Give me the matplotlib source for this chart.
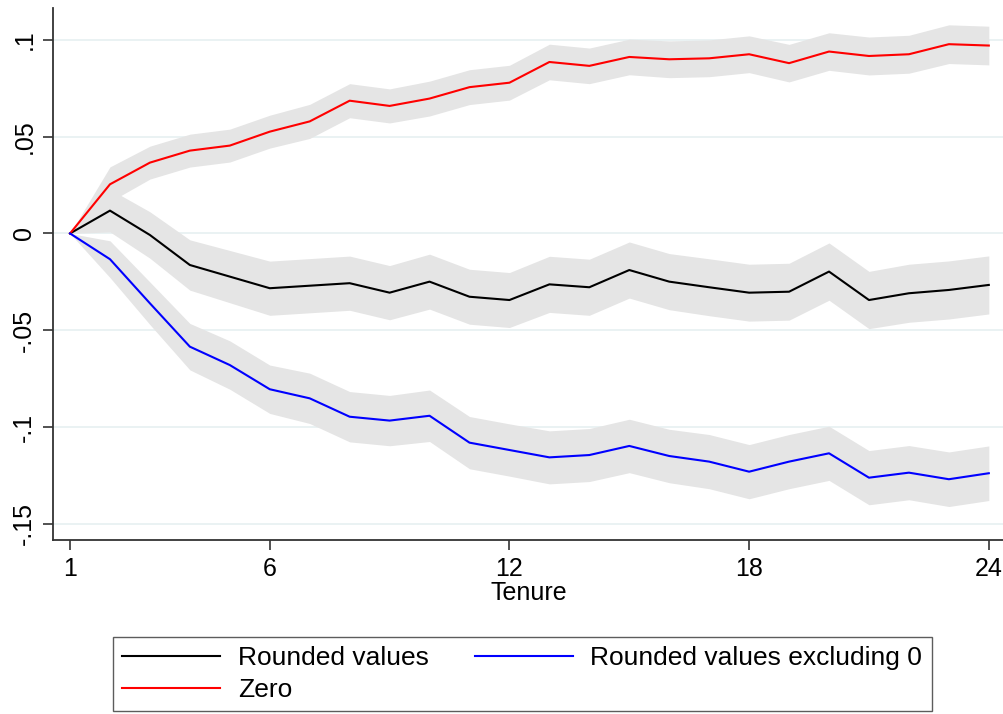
import matplotlib
matplotlib.use("Agg")
import matplotlib.pyplot as plt
import numpy as np

plt.rcParams["font.family"] = ["Liberation Sans", "DejaVu Sans"]

# Tenure months and estimated effects with confidence half-widths
tenure = list(range(1, 25))

rounded = [0.0, 0.0118, -0.0008, -0.0163, -0.0223, -0.0283, -0.0270, -0.0257,
           -0.0306, -0.0249, -0.0327, -0.0344, -0.0263, -0.0278, -0.0189, -0.0249,
           -0.0278, -0.0306, -0.0301, -0.0197, -0.0344, -0.0309, -0.0292, -0.0266]
rounded_ci = [0.0, 0.011, 0.012, 0.013, 0.0135, 0.014, 0.014, 0.014, 0.014, 0.0142,
              0.0142, 0.0142, 0.0145, 0.0145, 0.0145, 0.0145, 0.0147, 0.0147, 0.0147,
              0.0148, 0.0148, 0.015, 0.015, 0.015]

rounded_excl0 = [0.0, -0.0133, -0.0361, -0.0585, -0.0680, -0.0805, -0.0852, -0.0947,
                 -0.0967, -0.0942, -0.1081, -0.1119, -0.1157, -0.1145, -0.1098, -0.1150,
                 -0.1179, -0.1231, -0.1179, -0.1136, -0.1262, -0.1236, -0.1270, -0.1239]
rounded_excl0_ci = [0.0, 0.0095, 0.011, 0.012, 0.0125, 0.0125, 0.013, 0.013, 0.013,
                    0.0133, 0.0135, 0.0135, 0.0137, 0.0137, 0.0138, 0.0138, 0.014,
                    0.014, 0.014, 0.014, 0.014, 0.014, 0.0141, 0.0141]

zero = [0.0, 0.0254, 0.0366, 0.0428, 0.0454, 0.0526, 0.0579, 0.0686, 0.0659, 0.0697,
        0.0756, 0.0779, 0.0886, 0.0866, 0.0912, 0.0900, 0.0905, 0.0926, 0.0880,
        0.0940, 0.0917, 0.0926, 0.0978, 0.0971]
zero_ci = [0.0, 0.009, 0.0085, 0.0085, 0.0085, 0.0085, 0.0088, 0.0088, 0.0088, 0.009,
           0.009, 0.009, 0.0092, 0.0092, 0.0092, 0.0095, 0.0095, 0.0095, 0.0097,
           0.0097, 0.0098, 0.0098, 0.01, 0.01]

x_ticks = [1, 6, 12, 18, 24]
y_ticks = [-0.15, -0.1, -0.05, 0, 0.05, 0.1]
y_labels = ["-.15", "-.1", "-.05", "0", ".05", ".1"]

series = [
    ("Rounded values", rounded, rounded_ci, "black"),
    ("Zero", zero, zero_ci, "#ff0000"),
    ("Rounded values excluding 0", rounded_excl0, rounded_excl0_ci, "#0000ff"),
]

fig = plt.figure(figsize=(10.04, 7.14), dpi=100)
ax = fig.add_axes([0.0528, 0.2437, 0.9472, 0.7451])

t = np.array(tenure)
for label, est, ci, color in series:
    est = np.array(est)
    ci = np.array(ci)
    ax.fill_between(t, est - ci, est + ci, color="#e5e5e5", lw=0, zorder=2)

handles = {}
for label, est, ci, color in series:
    (ln,) = ax.plot(t, est, color=color, lw=1.5, zorder=3, label=label)
    handles[label] = ln

ax.set_xlim(0.574, 24.38)
ax.set_ylim(-0.1584, 0.1165)
ax.set_xticks(x_ticks)
ax.set_yticks(y_ticks)
ax.set_yticklabels(y_labels, rotation=90, va="center")
ax.tick_params(axis="both", labelsize=18, length=7, width=1.2, color="#333333")
ax.tick_params(axis="y", pad=5)
ax.tick_params(axis="x", pad=5)

ax.grid(axis="y", color="#eaf2f3", lw=1.4, zorder=1)
ax.set_axisbelow(True)

for side in ["top", "right"]:
    ax.spines[side].set_visible(False)
for side in ["left", "bottom"]:
    ax.spines[side].set_color("#333333")
    ax.spines[side].set_linewidth(1.3)

ax.set_xlabel("Tenure", fontsize=18, labelpad=0)

order = ["Rounded values", "Zero", "Rounded values excluding 0"]
leg = fig.legend([handles[k] for k in order], order, ncol=2, loc="upper left",
                 bbox_to_anchor=(113 / 1004, 1 - 637 / 714), borderaxespad=0,
                 fontsize=19, frameon=True, fancybox=False, handlelength=3.7,
                 handletextpad=0.68, columnspacing=1.75, labelspacing=0.3,
                 borderpad=0.35)
leg.get_frame().set_edgecolor("#333333")
leg.get_frame().set_linewidth(1.0)

fig.savefig("out.png", dpi=100)
